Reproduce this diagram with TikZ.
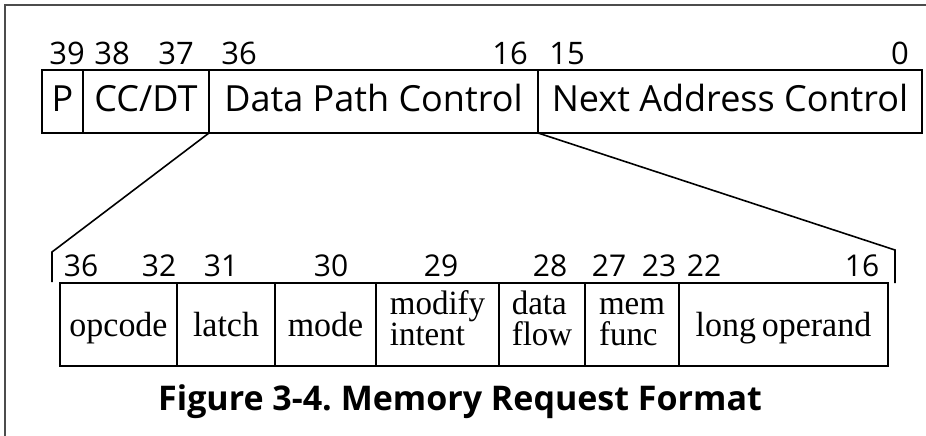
\documentclass[tikz,border=0pt]{standalone}
\usepackage{fontspec}
\setmainfont{Open Sans}
\newfontfamily\fieldfont[FakeStretch=0.97]{Liberation Serif}
\frenchspacing
\begin{document}
\begin{tikzpicture}[x=1pt,y=1pt,
  box/.style={draw, line width=1.8pt, inner sep=0pt, outer sep=0pt, anchor=north west},
  topcell/.style={box, minimum height=63pt, font={\fontsize{36}{40}\selectfont}, text height=28pt, text depth=8pt},
  lowcell/.style={box, minimum height=83pt, font={\fieldfont\fontsize{35}{31}\selectfont}, text height=30pt, text depth=7pt},
  twocell/.style={box, minimum height=83pt, align=left, font={\fieldfont\fontsize{34}{31}\selectfont\lineskiplimit=-100pt}, text height=54pt, text depth=13pt},
  toplab/.style={font={\fontsize{31}{34}\selectfont}, anchor=base, inner sep=0pt},
  lowlab/.style={font={\fontsize{30}{33}\selectfont}, anchor=base, inner sep=0pt},
  tickline/.style={line width=1.6pt},
  frameline/.style={line width=1.4pt, black!70}]
\useasboundingbox (0,0) rectangle (926,-436);
% frame
\coordinate (fa) at (5,-5);
\coordinate (fb) at (926,-5);
\coordinate (fc) at (5,-436);
\draw[frameline] (fb) -- (fa) -- (fc);
% top word
\node[topcell, minimum width=41pt] (p) at (42,-70) {P};
\node[topcell, minimum width=126pt] (cc) at (83,-70) {CC/DT};
\node[topcell, minimum width=329pt] (dpc) at (209,-70) {Data Path Control};
\node[topcell, minimum width=384pt] (nac) at (538,-70) {Next Address Control};
% top labels
\node[toplab] (t39) at (67,-65) {39};
\node[toplab] (t38) at (112,-65) {38};
\node[toplab] (t37) at (176,-65) {37};
\node[toplab] (t36) at (239,-65) {36};
\node[toplab] (t16) at (510,-65) {16};
\node[toplab] (t15) at (567,-65) {15};
\node[toplab] (t0) at (900,-65) {0};
% lower fields
\node[lowcell, minimum width=117pt] (opc) at (60,-283) {opcode};
\node[lowcell, minimum width=98pt] (lat) at (177,-283) {latch};
\node[lowcell, minimum width=101pt] (mod) at (275,-283) {mode};
\node[twocell, minimum width=123pt] (mdi) at (376,-283) {modify\\intent};
\node[twocell, minimum width=86pt] (dfl) at (499,-283) {data\\flow};
\node[twocell, minimum width=94pt] (mfn) at (585,-283) {mem\\func};
\node[lowcell, minimum width=209pt] (lop) at (679,-283) {long\,operand};
% lower labels
\node[lowlab] (b36) at (81,-276) {36};
\node[lowlab] (b32) at (159,-276) {32};
\node[lowlab] (b31) at (221,-276) {31};
\node[lowlab] (b30) at (331,-276) {30};
\node[lowlab] (b29) at (441,-276) {29};
\node[lowlab] (b28) at (550,-276) {28};
\node[lowlab] (b27) at (609,-276) {27};
\node[lowlab] (b23) at (659,-276) {23};
\node[lowlab] (b22) at (704,-276) {22};
\node[lowlab] (b16) at (862,-276) {16};
% expansion bracket
\coordinate (lt) at (52,-252);
\coordinate (lb) at (52,-282);
\coordinate (rt) at (895,-250);
\coordinate (rb) at (895,-283);
\draw[tickline] (dpc.south west) -- (lt) -- (lb);
\draw[tickline] (dpc.south east) -- (rt) -- (rb);
% caption
\node[font={\bfseries\fontsize{34}{40}\selectfont}, anchor=base, inner sep=0pt] (cap) at (460,-410) {Figure 3-4. Memory Request Format};
\end{tikzpicture}
\end{document}
